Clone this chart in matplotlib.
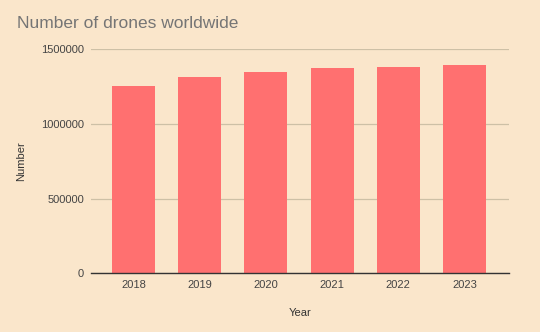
import matplotlib.pyplot as plt

plt.rcParams['font.family'] = ['Liberation Sans', 'DejaVu Sans']

# data
years = ["2018", "2019", "2020", "2021", "2022", "2023"]
drones = [1250000, 1310000, 1348000, 1370000, 1377000, 1390000]
y_ticks = [0, 500000, 1000000, 1500000]

bg = "#FAE6CB"
bar_color = "#FF7070"

fig = plt.figure(figsize=(5.4, 3.32), dpi=100, facecolor=bg)
ax = fig.add_axes([0.1685, 0.1768, 0.7741, 0.6756], facecolor=bg)

x = range(len(years))
ax.bar(x, drones, width=0.65, color=bar_color, zorder=3)

ax.set_xlim(-0.642, 5.672)
ax.set_ylim(0, 1500000)
ax.set_xticks(list(x))
ax.set_xticklabels(years)
ax.set_yticks(y_ticks)
ax.set_yticklabels([str(v) for v in y_ticks])

ax.grid(axis="y", color="#CDC0A6", linewidth=0.9, zorder=0)
for s in ["top", "right", "left"]:
    ax.spines[s].set_visible(False)
ax.spines["bottom"].set_color("#333333")
ax.spines["bottom"].set_linewidth(1.0)
ax.spines["bottom"].set_zorder(4)

ax.tick_params(axis="both", length=0, labelsize=8, labelcolor="#444444")
ax.tick_params(axis="x", pad=5)
ax.tick_params(axis="y", pad=5)

ax.set_xlabel("Year", fontsize=8, color="#333333")
ax.xaxis.set_label_coords(0.5, -0.155)
ax.set_ylabel("Number", fontsize=8, color="#333333")
ax.yaxis.set_label_coords(-0.155, 0.5)

fig.text(0.031, 0.93, "Number of drones worldwide", fontsize=12.5, color="#757575",
         ha="left", va="center")

fig.savefig("out.png", dpi=100, facecolor=bg)
